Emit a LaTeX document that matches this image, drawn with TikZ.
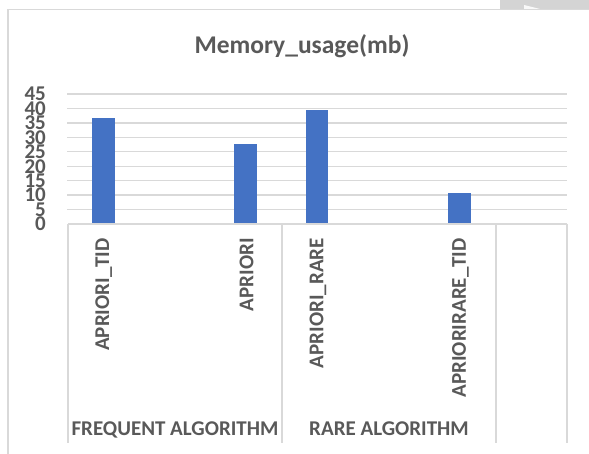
\documentclass[tikz,border=0pt]{standalone}
\usepackage{fontspec}
\setmainfont{Carlito}
\definecolor{barblue}{HTML}{4472C4}
\definecolor{gridgrey}{HTML}{D9D9D9}
\definecolor{labelgrey}{HTML}{595959}
\definecolor{tabgrey}{HTML}{D4D4D4}
\tikzset{
  axislabel/.style={text=labelgrey, font=\fontsize{21}{21}\selectfont\bfseries, inner sep=0pt},
  catlabel/.style={axislabel, rotate=90, anchor=east},
  barbox/.style={fill=barblue, draw=none},
  gridline/.style={draw=gridgrey, line width=1.3pt},
}
\begin{document}
\begin{tikzpicture}[x=1pt, y=-1pt]
  \useasboundingbox (0,0) rectangle (589,454);

  % Chart frame and the grey tab in the corner
  \fill[tabgrey] (500,0) rectangle (589,9);
  \fill[white!85!tabgrey] (524,5) -- (540,9) -- (524,9) -- cycle;
  \draw[gridline] (8,454) -- (8,9.5) -- (589,9.5);

  % Title
  \node[axislabel, font=\fontsize{25.5}{25.5}\selectfont\bfseries, anchor=base] (title) at (302,54) {Memory\_usage(mb)};

  % Value axis: gridlines and labels
  \begin{scope}[shift={(0,224)}, y=2.889pt]
    \foreach \v in {5,10,...,45}
      \draw[gridline] (67,\v) -- (567,\v);
    \foreach \v in {0,5,...,45}
      \node[axislabel, anchor=east] (ylab\v) at (46,\v) {\v};

    % Bars
    \fill[barbox] (92,0) rectangle (114.5,36.6);
    \fill[barbox] (234,0) rectangle (256.5,27.8);
    \fill[barbox] (305.5,0) rectangle (328,39.5);
    \fill[barbox] (448,0) rectangle (470.5,10.8);
  \end{scope}

  % Category axis
  \draw[gridline] (68,224) -- (567,224);
  \foreach \x in {68,282,496,567}
    \draw[gridline] (\x,224) -- (\x,443);

  % Category labels
  \node[catlabel] (tid) at (103.6,238) {APRIORI\_TID};
  \node[catlabel] (apriori) at (246.5,238) {APRIORI};
  \node[catlabel] (rare) at (317.9,238) {APRIORI\_RARE};
  \node[catlabel] (raretid) at (460.5,238) {APRIORIRARE\_TID};

  % Group labels
  \node[axislabel, anchor=base] (frequent) at (175,435) {FREQUENT ALGORITHM};
  \node[axislabel, anchor=base] (rarealg) at (389,435) {RARE ALGORITHM};
\end{tikzpicture}
\end{document}
